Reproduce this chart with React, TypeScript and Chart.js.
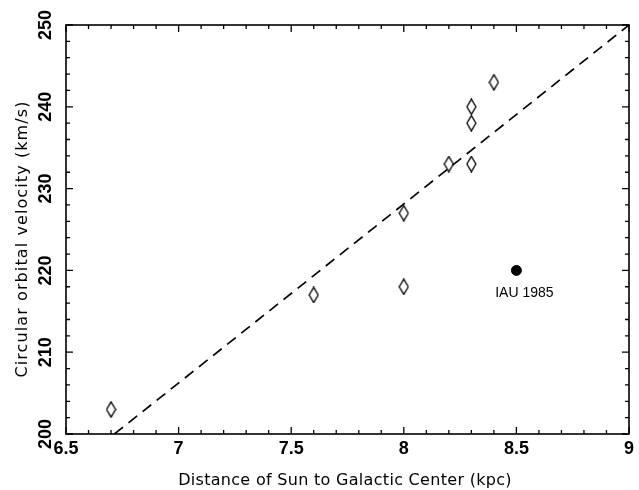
import React, { useEffect, useRef } from "react";
import { Chart, registerables } from "chart.js";

Chart.register(...registerables);

// Data
const distances = [6.7, 7.6, 8.0, 8.0, 8.2, 8.3, 8.3, 8.3, 8.4];
const velocities = [203, 217, 218, 227, 233, 233, 238, 240, 243];
const iauDistance = [8.5];
const iauVelocity = [220];
const iauLabel = "IAU 1985";
const fitX = [6.715, 9.0];
const fitY = [200, 250];

const xMajorTicks = [6.5, 7, 7.5, 8, 8.5, 9];
const xTickLabels = ["6.5", "7", "7.5", "8", "8.5", "9"];
const yMajorTicks = [200, 210, 220, 230, 240, 250];
const yTickLabels = ["200", "210", "220", "230", "240", "250"];
const xMinorTicks = [6.6, 6.7, 6.8, 6.9, 7.1, 7.2, 7.3, 7.4, 7.6, 7.7, 7.8, 7.9, 8.1, 8.2, 8.3, 8.4, 8.6, 8.7, 8.8, 8.9];
const yMinorTicks = [202, 204, 206, 208, 212, 214, 216, 218, 222, 224, 226, 228, 232, 234, 236, 238, 242, 244, 246, 248];

const xTitle = "Distance of Sun to Galactic Center (kpc)";
const yTitle = "Circular orbital velocity (km/s)";

function makeDiamond(): HTMLCanvasElement {
  const c = document.createElement("canvas");
  const w = 11, h = 17;
  c.width = w;
  c.height = h;
  const g = c.getContext("2d")!;
  g.strokeStyle = "#000";
  g.lineWidth = 1.3;
  g.beginPath();
  g.moveTo(w / 2, 0.8);
  g.lineTo(w - 1, h / 2);
  g.lineTo(w / 2, h - 0.8);
  g.lineTo(1, h / 2);
  g.closePath();
  g.stroke();
  return c;
}

const framePlugin = {
  id: "frame",
  afterDatasetsDraw(chart: any) {
    const ctx: CanvasRenderingContext2D = chart.ctx;
    const { left, right, top, bottom } = chart.chartArea;
    const xs = chart.scales.x;
    const ys = chart.scales.y;
    ctx.save();
    ctx.strokeStyle = "#000";
    ctx.lineWidth = 1.6;
    ctx.strokeRect(left, top, right - left, bottom - top);
    ctx.lineWidth = 1.3;
    const major = 7, minor = 4;
    ctx.beginPath();
    const xt = (v: number, len: number) => {
      const p = xs.getPixelForValue(v);
      ctx.moveTo(p, bottom);
      ctx.lineTo(p, bottom - len);
      ctx.moveTo(p, top);
      ctx.lineTo(p, top + len);
    };
    const yt = (v: number, len: number) => {
      const p = ys.getPixelForValue(v);
      ctx.moveTo(left, p);
      ctx.lineTo(left + len, p);
      ctx.moveTo(right, p);
      ctx.lineTo(right - len, p);
    };
    xMajorTicks.forEach((v) => xt(v, major));
    xMinorTicks.forEach((v) => xt(v, minor));
    yMajorTicks.forEach((v) => yt(v, major));
    yMinorTicks.forEach((v) => yt(v, minor));
    ctx.stroke();

    ctx.fillStyle = "#000";
    ctx.font = "bold 18px 'Liberation Sans', Arial, sans-serif";
    ctx.textAlign = "center";
    ctx.textBaseline = "alphabetic";
    xMajorTicks.forEach((v, i) => {
      ctx.fillText(xTickLabels[i], xs.getPixelForValue(v), bottom + 20);
    });
    yMajorTicks.forEach((v, i) => {
      ctx.save();
      ctx.translate(left - 15, ys.getPixelForValue(v));
      ctx.rotate(-Math.PI / 2);
      ctx.fillText(yTickLabels[i], 0, 0);
      ctx.restore();
    });

    ctx.font = "16px 'DejaVu Sans', sans-serif";
    (ctx as any).letterSpacing = "0.3px";
    ctx.fillText(xTitle, 345, 485);
    (ctx as any).letterSpacing = "1.1px";
    ctx.save();
    ctx.translate(27, 239);
    ctx.rotate(-Math.PI / 2);
    ctx.fillText(yTitle, 0, 0);
    ctx.restore();
    (ctx as any).letterSpacing = "0px";

    ctx.font = "14px 'Liberation Sans', Arial, sans-serif";
    const px = xs.getPixelForValue(iauDistance[0]);
    const py = ys.getPixelForValue(iauVelocity[0]);
    ctx.fillText(iauLabel, px + 8, py + 27);
    ctx.restore();
  },
};

export default function App() {
  const ref = useRef<HTMLCanvasElement>(null);
  useEffect(() => {
    if (!ref.current) return;
    const diamond = makeDiamond();
    const chart = new Chart(ref.current, {
      type: "scatter",
      data: {
        datasets: [
          {
            label: "fit",
            type: "line",
            data: fitX.map((x, i) => ({ x, y: fitY[i] })),
            borderColor: "#000",
            borderWidth: 1.7,
            borderDash: [11, 7],
            pointRadius: 0,
            fill: false,
          } as any,
          {
            label: "measurements",
            data: distances.map((x, i) => ({ x, y: velocities[i] })),
            pointStyle: diamond,
            pointRadius: 9,
          },
          {
            label: "IAU",
            data: iauDistance.map((x, i) => ({ x, y: iauVelocity[i] })),
            pointStyle: "circle",
            pointRadius: 5,
            backgroundColor: "#000",
            borderColor: "#000",
          },
        ],
      },
      options: {
        responsive: false,
        animation: false,
        layout: { padding: { left: 66, right: 3, top: 25, bottom: 56 } },
        plugins: { legend: { display: false }, tooltip: { enabled: false } },
        scales: {
          x: { type: "linear", min: 6.5, max: 9, display: false },
          y: { type: "linear", min: 200, max: 250, display: false },
        },
      },
      plugins: [framePlugin],
    });
    return () => chart.destroy();
  }, []);
  return (
    <div style={{ position: "absolute", left: 0, top: 0, width: 639, height: 490, background: "#fff" }}>
      <canvas ref={ref} width={639} height={490} />
    </div>
  );
}
